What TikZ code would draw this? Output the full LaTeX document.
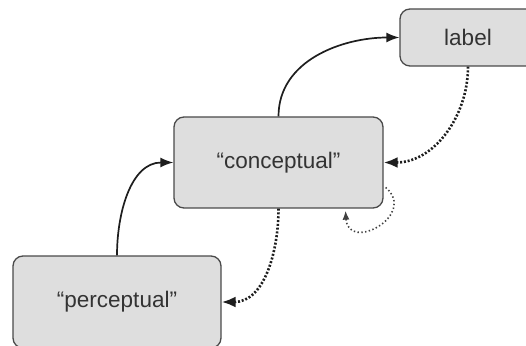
\documentclass[tikz,border=0pt]{standalone}
\usepackage{fontspec}
\setmainfont{Liberation Sans}
\usetikzlibrary{arrows.meta}
\definecolor{boxfill}{HTML}{DEDEDE}
\definecolor{boxline}{HTML}{4A4A4A}
\definecolor{inktext}{HTML}{333333}
\definecolor{ink}{HTML}{1E1E1E}
\tikzset{
  stage/.style={draw=boxline, fill=boxfill, line width=1.3pt, rounded corners=10pt,
    text=inktext, font=\fontsize{22.5}{26}\selectfont, inner sep=0pt},
  forward/.style={draw=ink, line width=1.7pt, -{Latex[length=13pt,width=10pt]}},
  feedback/.style={draw=ink, line width=2.6pt, dash pattern=on 2pt off 1.8pt,
    -{Latex[length=14pt,width=11pt]}},
  selfloop/.style={draw=ink!85, line width=1.6pt, dash pattern=on 1.4pt off 2.4pt,
    -{Latex[length=9pt,width=7pt]}}
}
\begin{document}
\begin{tikzpicture}[x=1pt,y=1pt]
  \useasboundingbox (0,0) rectangle (526,345);
  \clip (0,0) rectangle (526,345);

  % the three stages
  \node[stage, minimum width=136pt, minimum height=57pt] (label) at (468,307.5) {label};
  \node[stage, minimum width=209pt, minimum height=91pt] (conc) at (278.5,182.5) {``conceptual''};
  \node[stage, minimum width=208pt, minimum height=92pt] (perc) at (117,43) {``perceptual''};

  % bottom-up links
  \draw[forward] (perc.north) to[out=90,in=180] (conc.west);
  \draw[forward] (conc.north) to[out=90,in=180] (label.west);

  % top-down feedback
  \draw[feedback] (label.south) to[out=-90,in=0] (conc.east);
  \draw[feedback] (conc.south) to[out=-90,in=0] (perc.east);

  % recurrent loop on the conceptual stage
  \coordinate (loopstart) at ([shift={(2,-25)}]conc.east);
  \coordinate (loopend) at ([shift={(67,-2)}]conc.south);
  \draw[selfloop] (loopstart) .. controls (418,130) and (348,92) .. (loopend);
\end{tikzpicture}
\end{document}
